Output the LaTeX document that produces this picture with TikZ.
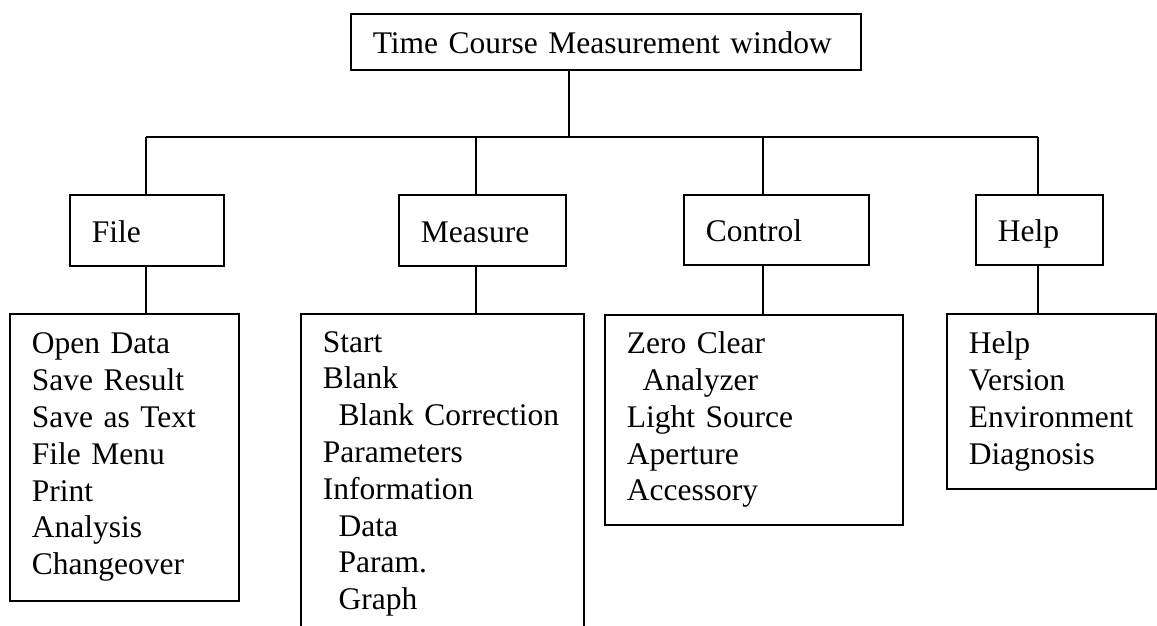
\documentclass[tikz,border=0pt]{standalone}
\usepackage{fontspec}
\setmainfont{Liberation Serif}
\begin{document}
\begin{tikzpicture}[x=1pt,y=-1pt,
  box/.style={draw, line width=1.6pt, anchor=north west, inner xsep=22pt, inner ysep=0pt,
    align=left, font=\fontsize{31.5}{36.8}\selectfont},
  single/.style={text height=24pt, text depth=0pt},
  link/.style={line width=1.6pt}]
\clip (0,0) rectangle (1157,625);
\fill[white] (0,0) rectangle (1157,625);
% top box
\node[box, single, text width=466pt, minimum height=56pt] (top) at (350,13) {Time Course Measurement window};
% menu boxes
\node[box, single, text width=110pt, minimum height=71pt] (file) at (69,194) {File};
\node[box, single, text width=123pt, minimum height=71pt] (measure) at (398,194) {Measure};
\node[box, single, text width=141pt, minimum height=70pt] (control) at (683,194) {Control};
\node[box, single, text width=83pt, minimum height=70pt] (help) at (975,194) {Help};
% item boxes
\node[box, text width=185pt, minimum height=287pt] (fileitems) at (9,313)
  {Open Data\\Save Result\\Save as Text\\File Menu\\Print\\Analysis\\Changeover};
\node[box, text width=239pt, minimum height=320pt] (measureitems) at (300,313)
  {Start\\Blank\\\hspace*{15.75pt}Blank Correction\\Parameters\\Information\\\hspace*{15.75pt}Data\\\hspace*{15.75pt}Param.\\\hspace*{15.75pt}Graph};
\node[box, text width=254pt, minimum height=210pt] (controlitems) at (604,314)
  {Zero Clear\\\hspace*{15.75pt}Analyzer\\Light Source\\Aperture\\Accessory};
\node[box, text width=165pt, minimum height=175pt] (helpitems) at (946,313)
  {Help\\Version\\Environment\\Diagnosis};
% bus coordinates
\coordinate (b0) at (569,137);
\coordinate (cF) at (146,137);
\coordinate (cM) at (476,137);
\coordinate (cC) at (763,137);
\coordinate (cH) at (1038,137);
% connectors
\draw[link] (b0 |- top.south) -- (b0);
\draw[link] (cF) -- (cH);
\draw[link] (cF) -- (cF |- file.north);
\draw[link] (cM) -- (cM |- measure.north);
\draw[link] (cC) -- (cC |- control.north);
\draw[link] (cH) -- (cH |- help.north);
\draw[link] (cF |- file.south) -- (cF |- fileitems.north);
\draw[link] (cM |- measure.south) -- (cM |- measureitems.north);
\draw[link] (cC |- control.south) -- (cC |- controlitems.north);
\draw[link] (cH |- help.south) -- (cH |- helpitems.north);
\end{tikzpicture}
\end{document}
